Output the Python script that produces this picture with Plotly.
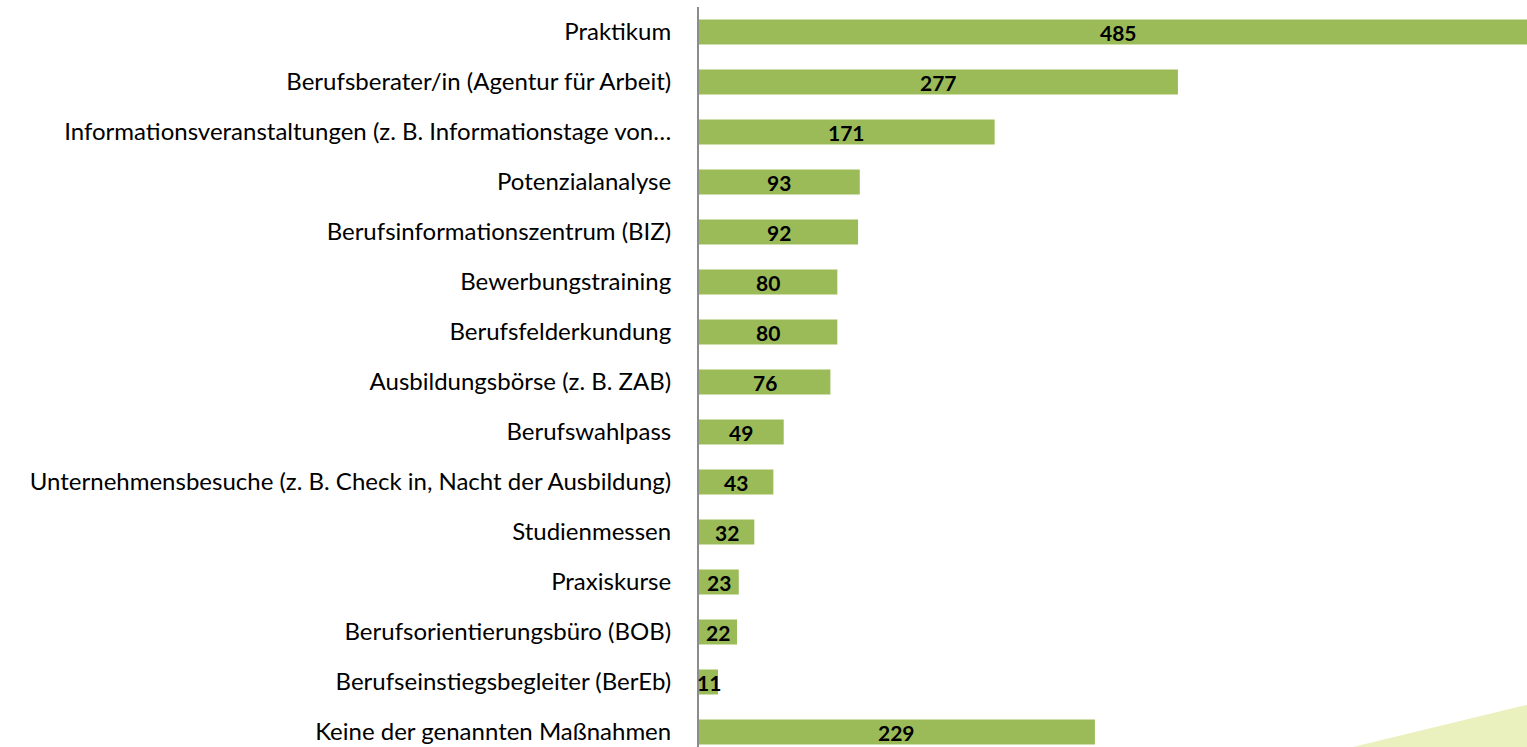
import plotly.graph_objects as go

categories = [
    "Praktikum",
    "Berufsberater/in (Agentur für Arbeit)",
    "Informationsveranstaltungen (z. B. Informationstage von…",
    "Potenzialanalyse",
    "Berufsinformationszentrum (BIZ)",
    "Bewerbungstraining",
    "Berufsfelderkundung",
    "Ausbildungsbörse (z. B. ZAB)",
    "Berufswahlpass",
    "Unternehmensbesuche (z. B. Check in, Nacht der Ausbildung)",
    "Studienmessen",
    "Praxiskurse",
    "Berufsorientierungsbüro (BOB)",
    "Berufseinstiegsbegleiter (BerEb)",
    "Keine der genannten Maßnahmen",
]
values = [485, 277, 171, 93, 92, 80, 80, 76, 49, 43, 32, 23, 22, 11, 229]

BAR = "#9BBB59"
FONT = "Lato, Carlito, Calibri, sans-serif"

fig = go.Figure()
fig.add_trace(go.Bar(
    y=categories, x=values, orientation="h",
    marker=dict(color=BAR, line=dict(width=0)),
    hoverinfo="x+y", cliponaxis=True,
))

for c, v in zip(categories, values):
    fig.add_annotation(x=v / 2, y=c, text=f"<b>{v}</b>", showarrow=False,
                       font=dict(family=FONT, size=21, color="black"),
                       xanchor="center", yanchor="middle")

fig.add_shape(type="path", xref="paper", yref="paper",
              path="M 0.79 0 L 1 0.057 L 1 0 Z",
              fillcolor="#EAF0BE", line=dict(width=0), layer="below")

fig.update_layout(
    width=1527, height=747,
    margin=dict(l=699, r=0, t=7, b=0),
    paper_bgcolor="white", plot_bgcolor="white",
    bargap=0.5, showlegend=False,
    xaxis=dict(range=[0, 478.9], visible=False, fixedrange=True),
    yaxis=dict(type="category", range=[14.3, -0.5], showgrid=False,
               showline=True, linecolor="#8C8C8C", linewidth=2,
               ticks="", ticklabelstandoff=21,
               tickfont=dict(family=FONT, size=24, color="black")),
)

fig.write_html("out.html",
               config={"displayModeBar": False},
               post_script="document.body.style.margin='0';document.body.style.overflow='hidden';")
